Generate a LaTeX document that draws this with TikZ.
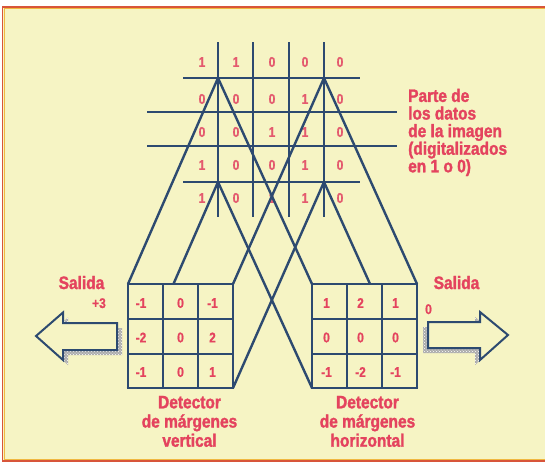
\documentclass[tikz,border=0pt]{standalone}
\usepackage{fontspec}
\setmainfont{Liberation Sans}
\newfontfamily\labfont[UprightFont={Liberation Sans Bold}, FakeStretch=0.86, FakeBold=1.6]{Liberation Sans}
\newfontfamily\digfont[UprightFont={Liberation Sans Bold}, FakeStretch=0.85, FakeBold=0.8]{Liberation Sans}
\usetikzlibrary{patterns}
\definecolor{bg}{HTML}{F6F4C4}
\definecolor{ln}{HTML}{2D4A70}
\definecolor{tx}{HTML}{E4435E}
\definecolor{dg}{HTML}{E45A6E}
\definecolor{fr}{HTML}{D8553A}
\definecolor{fy}{HTML}{F0B840}
\begin{document}
\begin{tikzpicture}[x=1pt,y=-1pt,
  gl/.style={ln, line width=2.4pt},
  lab/.style={tx, font=\labfont\fontsize{18}{19.2}\selectfont, inner sep=0pt, align=center},
  dig/.style={dg, font=\digfont\fontsize{14}{14}\selectfont, inner sep=0pt},
  bdig/.style={tx, font=\digfont\fontsize{14}{14}\selectfont, inner sep=0pt},
  arrowbox/.style={draw=ln, line width=2pt, fill=bg, line join=miter},
  shadow/.style={fill=gray!65}
]
\useasboundingbox (0,0) rectangle (545,467);
% background and frame
\fill[white] (0,0) rectangle (545,467);
\fill[bg] (2.5,7) rectangle (546,461);
\draw[fy, line width=1pt] (546,459.3) -- (4,459.3) -- (4,8.5) -- (546,8.5);
\draw[fr, line width=1.5pt] (546,7) -- (2.5,7) -- (2.5,461) -- (546,461);

% image grid
\foreach \x in {218,253,289,324} \draw[gl] (\x,42) -- (\x,217);
\draw[gl] (183,78) -- (360,78);
\draw[gl] (147,112) -- (397,112);
\draw[gl] (147,146) -- (397,146);
\draw[gl] (183,182) -- (360,182);

% grid digits
\foreach \r/\y/\vals in {1/62/{1,1,0,0,0}, 2/99/{0,0,0,1,0}, 3/132/{0,0,1,1,0}, 4/165/{1,0,0,1,0}, 5/198/{1,0,1,1,0}} {
  \foreach \v [count=\c] in \vals {
    \pgfmathsetmacro{\xx}{{202,236,272,305,340}[\c-1]}
    \node[dig] (g\r\c) at (\xx,\y) {\v};
  }
}

% patch and box corners
\coordinate (PTL) at (218,78);
\coordinate (PTR) at (324,78);
\coordinate (PBL) at (218,182);
\coordinate (PBR) at (324,182);
\coordinate (LTL) at (128,284);
\coordinate (LTR) at (233,284);
\coordinate (LBL) at (128,388);
\coordinate (LBR) at (233,388);
\coordinate (RTL) at (312,284);
\coordinate (RTR) at (417,284);
\coordinate (RBL) at (312,388);
\coordinate (RBR) at (417,388);

% projection lines
\draw[gl] (PTL) -- (LTL);
\draw[gl] (PTR) -- (LTR);
\draw[gl] (PBL) -- (LBL);
\draw[gl] (PBR) -- (LBR);
\draw[gl] (PTL) -- (RTL);
\draw[gl] (PTR) -- (RTR);
\draw[gl] (PBL) -- (RBL);
\draw[gl] (PBR) -- (RBR);

% detector boxes
\fill[bg] (LTL) rectangle (LBR);
\fill[bg] (RTL) rectangle (RBR);
\draw[gl] (LTL) rectangle (LBR);
\draw[gl] (RTL) rectangle (RBR);
\draw[gl] (163,284) -- (163,388) (198,284) -- (198,388) (128,319) -- (233,319) (128,354) -- (233,354);
\draw[gl] (347,284) -- (347,388) (382,284) -- (382,388) (312,319) -- (417,319) (312,354) -- (417,354);

% box digits
\foreach \r/\y/\vals in {1/303/{-1,0,-1}, 2/337.5/{-2,0,2}, 3/372/{-1,0,1}} {
  \foreach \v [count=\c] in \vals {
    \pgfmathsetmacro{\xx}{{141,180.5,212.5}[\c-1]}
    \node[bdig] (l\r\c) at (\xx,\y) {\v};
  }
}
\foreach \r/\y/\vals in {1/303/{1,2,1}, 2/337.5/{0,0,0}, 3/372/{-1,-2,-1}} {
  \foreach \v [count=\c] in \vals {
    \pgfmathsetmacro{\xx}{{326.5,360.5,395.5}[\c-1]}
    \node[bdig] (r\r\c) at (\xx,\y) {\v};
  }
}

% arrows
\fill[shadow] ([shift={(5,5)}]36,336) -- ([shift={(5,5)}]63,312.5) -- ([shift={(5,5)}]63,323) -- ([shift={(5,5)}]117,323) -- ([shift={(5,5)}]117,350) -- ([shift={(5,5)}]63,350) -- ([shift={(5,5)}]63,360) -- cycle;
\fill[pattern=crosshatch dots, pattern color=white] ([shift={(5,5)}]36,336) -- ([shift={(5,5)}]63,312.5) -- ([shift={(5,5)}]63,323) -- ([shift={(5,5)}]117,323) -- ([shift={(5,5)}]117,350) -- ([shift={(5,5)}]63,350) -- ([shift={(5,5)}]63,360) -- cycle;
\draw[arrowbox] (36,336) -- (63,312.5) -- (63,323) -- (117,323) -- (117,350) -- (63,350) -- (63,360) -- cycle;

\fill[shadow] ([shift={(-5,5)}]508,335) -- ([shift={(-5,5)}]480,312) -- ([shift={(-5,5)}]480,322) -- ([shift={(-5,5)}]428,322) -- ([shift={(-5,5)}]428,348) -- ([shift={(-5,5)}]480,348) -- ([shift={(-5,5)}]480,360) -- cycle;
\fill[pattern=crosshatch dots, pattern color=white] ([shift={(-5,5)}]508,335) -- ([shift={(-5,5)}]480,312) -- ([shift={(-5,5)}]480,322) -- ([shift={(-5,5)}]428,322) -- ([shift={(-5,5)}]428,348) -- ([shift={(-5,5)}]480,348) -- ([shift={(-5,5)}]480,360) -- cycle;
\draw[arrowbox] (508,335) -- (480,312) -- (480,322) -- (428,322) -- (428,348) -- (480,348) -- (480,360) -- cycle;

% labels
\node[lab, anchor=base] (salL) at (81.5,289) {Salida};
\node[bdig, anchor=base] (outL) at (99,308) {+3};
\node[lab, anchor=base] (salR) at (456.5,289) {Salida};
\node[bdig, anchor=base] (outR) at (428.5,314) {0};
\node[lab, anchor=base] (detL) at (189.5,446.7) {Detector\\de márgenes\\vertical};
\node[lab, anchor=base] (detR) at (367.5,446.7) {Detector\\de márgenes\\horizontal};
\node[lab, anchor=base west, align=left, font=\labfont\fontsize{18}{17.6}\selectfont] (parte) at (408,172.3) {Parte de\\los datos\\de la imagen\\(digitalizados\\en 1 o 0)};
\end{tikzpicture}
\end{document}
